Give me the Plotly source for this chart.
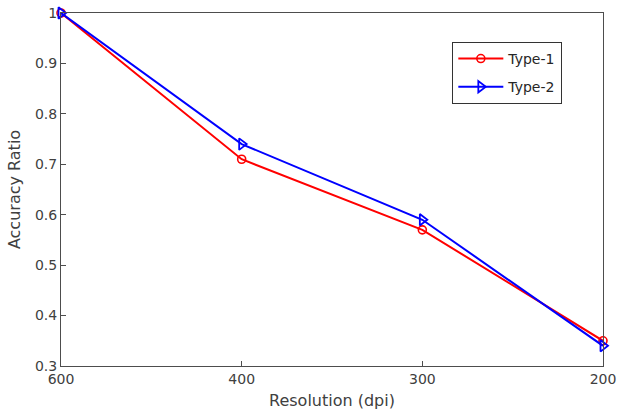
import plotly.graph_objects as go

resolution = ["600", "400", "300", "200"]
type1 = [1.00, 0.71, 0.57, 0.35]
type2 = [1.00, 0.74, 0.59, 0.34]
y_ticks = [0.3, 0.4, 0.5, 0.6, 0.7, 0.8, 0.9, 1.0]
y_tick_text = ["0.3", "0.4", "0.5", "0.6", "0.7", "0.8", "0.9", "1"]

fig = go.Figure()
fig.add_trace(go.Scatter(
    x=resolution, y=type1, name="Type-1", mode="lines+markers",
    legendgroup="t1",
    line=dict(color="#ff0000", width=2),
    marker=dict(symbol="circle-open", size=8, color="#ff0000", line=dict(width=1.6)),
    cliponaxis=False,
))
fig.add_trace(go.Scatter(
    x=resolution, y=type2, name="Type-2", mode="lines+markers",
    legendgroup="t2",
    line=dict(color="#0000ff", width=2),
    marker=dict(symbol="triangle-right-open", size=10, color="#0000ff", line=dict(width=1.8)),
    cliponaxis=False,
))

axis_color = "#4d4d4d"
fig.update_layout(
    width=617, height=410,
    margin=dict(l=61, r=14, t=13, b=44),
    paper_bgcolor="white", plot_bgcolor="white",
    font=dict(family="DejaVu Sans", color="#404040", size=14),
    showlegend=True,
    legend=dict(
        x=0.722, y=0.918, xanchor="left", yanchor="top",
        bordercolor="#333333", borderwidth=1, bgcolor="white",
        font=dict(size=14, color="#262626"),
        tracegroupgap=7, itemwidth=45, entrywidth=118,
    ),
    xaxis=dict(
        type="category", range=[0, 3], automargin=False,
        title=dict(text="Resolution (dpi)", font=dict(size=16), standoff=10),
        showline=True, linecolor=axis_color, linewidth=1, mirror=True,
        ticks="inside", ticklen=5, tickcolor=axis_color,
        showgrid=False, zeroline=False,
    ),
    yaxis=dict(
        range=[0.3, 1.0], automargin=False,
        tickvals=y_ticks, ticktext=y_tick_text,
        title=dict(text="Accuracy Ratio", font=dict(size=16), standoff=10),
        showline=True, linecolor=axis_color, linewidth=1, mirror=True,
        ticks="inside", ticklen=5, tickcolor=axis_color,
        showgrid=False, zeroline=False,
    ),
)

fig.write_html("out.html")
